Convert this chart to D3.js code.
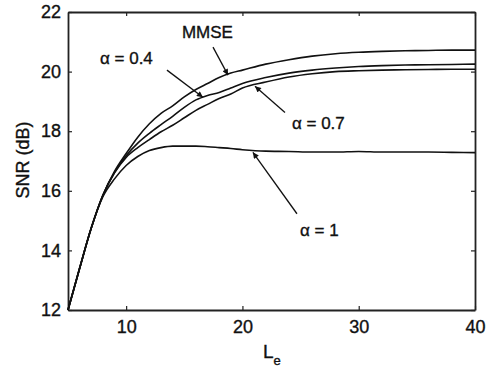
<!DOCTYPE html>
<html>
<head>
<meta charset="utf-8">
<script src="https://cdn.jsdelivr.net/npm/d3@7"></script>
<style>
  body { margin: 0; background: #fff; }
  text { font-family: "Liberation Sans", Arial, sans-serif; fill: #111; stroke: #111; stroke-width: 0.35px; }
</style>
</head>
<body>
<div id="chart"></div>
<script>
// filter length L_e
const lengths = [5, 6, 7, 8, 9, 10, 11, 12, 13, 14, 15, 16, 17, 18, 19, 20, 22, 24, 26, 28, 30, 32, 34, 36, 38, 40];

const mmse   = [12, 13.4, 14.75, 15.85, 16.65, 17.25, 17.8, 18.25, 18.6, 18.85, 19.15, 19.4, 19.6, 19.8, 19.95, 20.05, 20.25, 20.4, 20.52, 20.6, 20.65, 20.68, 20.7, 20.71, 20.72, 20.72];
const alpha04 = [12, 13.4, 14.75, 15.85, 16.62, 17.18, 17.6, 17.93, 18.22, 18.5, 18.8, 19.05, 19.2, 19.3, 19.45, 19.6, 19.8, 19.95, 20.05, 20.12, 20.17, 20.2, 20.22, 20.23, 20.24, 20.25];
const alpha07 = [12, 13.4, 14.75, 15.85, 16.6, 17.12, 17.45, 17.72, 17.98, 18.2, 18.45, 18.7, 18.9, 19.1, 19.25, 19.45, 19.65, 19.82, 19.93, 20.0, 20.03, 20.05, 20.06, 20.07, 20.08, 20.08];
const alpha1  = [12, 13.4, 14.75, 15.8, 16.4, 16.85, 17.15, 17.35, 17.45, 17.5, 17.5, 17.5, 17.48, 17.45, 17.42, 17.38, 17.33, 17.32, 17.3, 17.3, 17.32, 17.3, 17.3, 17.3, 17.29, 17.28];

const xTicks = [10, 20, 30, 40];
const yTicks = [12, 14, 16, 18, 20, 22];

// text labels with arrow: label anchor (L, SNR) and arrow from -> to
const notes = [
  {text: "MMSE",    x: 14.8,  y: 21.12, x1: 17.47, y1: 20.82, x2: 18.76, y2: 19.88},
  {text: "α = 0.4", x: 7.75,  y: 20.25, x1: 13.51, y1: 20.05, x2: 16.6,  y2: 19.14},
  {text: "α = 0.7", x: 24.26, y: 18.09, x1: 23.66, y1: 18.63, x2: 21.08, y2: 19.51},
  {text: "α = 1",   x: 24.95, y: 14.49, x1: 24.69, y1: 15.23, x2: 20.9,  y2: 17.29}
];

var margin = {top: 12, right: 19, bottom: 60, left: 68},
    width = 494 - margin.left - margin.right,
    height = 370 - margin.top - margin.bottom;

let root = d3.select("#chart")
    .append("svg")
    .attr("width", 494)
    .attr("height", 370);

root.append("defs").append("marker")
    .attr("id", "head")
    .attr("viewBox", "0 0 10 10")
    .attr("refX", 10).attr("refY", 5)
    .attr("markerWidth", 9).attr("markerHeight", 6)
    .attr("markerUnits", "userSpaceOnUse")
    .attr("orient", "auto")
    .append("path")
    .attr("d", "M0,0 L10,5 L0,10 z")
    .attr("fill", "#111");

let svg = root.append("g")
    .attr("transform", "translate(" + margin.left + "," + margin.top + ")");

let x = d3.scaleLinear().domain([5, 40]).range([0, width]);
let y = d3.scaleLinear().domain([12, 22]).range([height, 0]);

// box axes, ticks pointing inward
let axisStyle = g => {
  g.select(".domain").attr("stroke", "#222").attr("stroke-width", 1.8);
  g.selectAll(".tick line").attr("stroke", "#222").attr("stroke-width", 1.2);
  g.selectAll(".tick text").attr("font-size", 18).attr("fill", "#111")
    .attr("font-family", "Liberation Sans, Arial, sans-serif");
};

svg.append("g")
    .attr("transform", "translate(0," + height + ")")
    .call(d3.axisBottom(x).tickValues(xTicks).tickSizeInner(-4).tickSizeOuter(0).tickPadding(10))
    .call(axisStyle);

svg.append("g")
    .call(d3.axisTop(x).tickValues(xTicks).tickSizeInner(-4).tickSizeOuter(0).tickFormat(""))
    .call(axisStyle);

svg.append("g")
    .call(d3.axisLeft(y).tickValues(yTicks).tickSizeInner(-4).tickSizeOuter(0).tickPadding(7))
    .call(axisStyle);

svg.append("g")
    .attr("transform", "translate(" + width + ",0)")
    .call(d3.axisRight(y).tickValues(yTicks).tickSizeInner(-4).tickSizeOuter(0).tickFormat(""))
    .call(axisStyle);

let line = d3.line()
    .x((d, i) => x(lengths[i]))
    .y(d => y(d))
    .curve(d3.curveMonotoneX);

[mmse, alpha04, alpha07, alpha1].forEach(series => {
  svg.append("path")
      .datum(series)
      .attr("fill", "none")
      .attr("stroke", "#111")
      .attr("stroke-width", 1.6)
      .attr("d", line);
});

notes.forEach(n => {
  svg.append("line")
      .attr("x1", x(n.x1)).attr("y1", y(n.y1))
      .attr("x2", x(n.x2)).attr("y2", y(n.y2))
      .attr("stroke", "#111")
      .attr("stroke-width", 1.3)
      .attr("marker-end", "url(#head)");
  svg.append("text")
      .attr("x", x(n.x)).attr("y", y(n.y))
      .attr("font-size", 17)
      .text(n.text);
});

// axis titles
root.append("text")
    .attr("transform", "translate(29,160) rotate(-90)")
    .attr("text-anchor", "middle")
    .attr("font-size", 18)
    .text("SNR (dB)");

let xt = root.append("text")
    .attr("x", 263).attr("y", 358)
    .attr("font-size", 19);
xt.append("tspan").text("L");
xt.append("tspan").attr("dy", 7).attr("font-size", 13).text("e");
</script>
</body>
</html>
